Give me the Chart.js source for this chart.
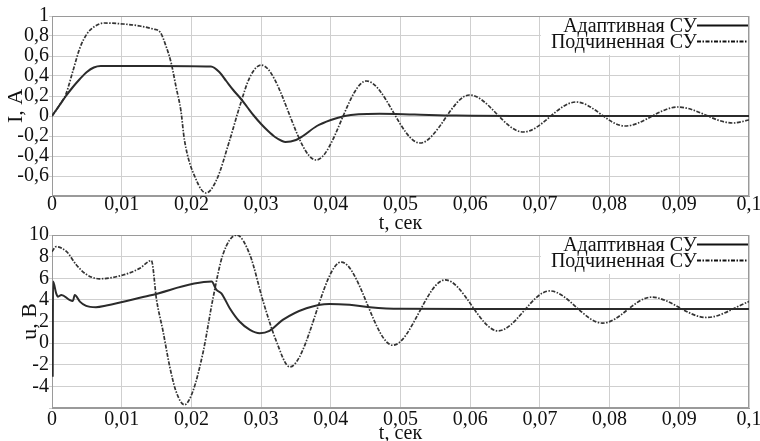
<!DOCTYPE html>
<html><head><meta charset="utf-8">
<script src="https://cdn.jsdelivr.net/npm/chart.js@4.4.1/dist/chart.umd.min.js"></script>
<style>
html,body{margin:0;padding:0;background:#fff;width:760px;height:441px;overflow:hidden;position:relative}
canvas{position:absolute;left:0}
#c1{top:0}
#c2{top:220px}
</style></head><body>
<canvas id="c1" width="760" height="236"></canvas>
<canvas id="c2" width="760" height="221"></canvas>
<script>
const seriesNames = ['Адаптивная СУ', 'Подчиненная СУ'];
const xTitle = 't, сек';
const iTitle = 'I, A';
const uTitle = 'u, B';
const xTicks = [0,0.01,0.02,0.03,0.04,0.05,0.06,0.07,0.08,0.09,0.1];
const xTickLabels = ['0','0,01','0,02','0,03','0,04','0,05','0,06','0,07','0,08','0,09','0,1'];
const iTicks = [-0.8,-0.6,-0.4,-0.2,0,0.2,0.4,0.6,0.8,1];
const iTickLabels = ['','-0,6','-0,4','-0,2','0','0,2','0,4','0,6','0,8','1'];
const uTicks = [-6,-4,-2,0,2,4,6,8,10];
const uTickLabels = ['','-4','-2','0','2','4','6','8','10'];

// Current, adaptive control
const tIAdaptive = [0,0.001,0.002,0.003,0.004,0.005,0.006,0.007,0.015,0.0228,0.024,0.025,0.026,0.027,0.028,0.029,0.030,0.031,0.032,0.033,0.0335,0.035,0.036,0.038,0.040,0.042,0.044,0.047,0.052,0.058,0.07,0.1];
const iAdaptive  = [0,0.1,0.2,0.29,0.37,0.44,0.485,0.5,0.5,0.495,0.44,0.35,0.26,0.18,0.09,0.0,-0.08,-0.15,-0.21,-0.25,-0.26,-0.24,-0.2,-0.1,-0.04,0.0,0.017,0.022,0.014,0.004,0,0];
// Current, subordinate control
const tISub = [0,0.001,0.002,0.003,0.004,0.005,0.006,0.0075,0.0102,0.0126,0.0145,0.0155,0.0164,0.0171,0.0178,0.0185,0.019,0.0207,0.0221,0.0236,0.0255,0.0269,0.0284,0.030,0.0379,0.0451,0.0528,0.0599,0.0676,0.0752,0.0822,0.0898,0.0977,0.1];
const iSub  = [0,0.1,0.22,0.45,0.68,0.82,0.89,0.93,0.92,0.90,0.87,0.84,0.69,0.53,0.29,0.05,-0.24,-0.64,-0.77,-0.64,-0.24,0.09,0.39,0.51,-0.44,0.35,-0.27,0.21,-0.16,0.14,-0.10,0.09,-0.07,-0.04];
// Voltage, adaptive control
const tUAdaptive = [0.0001,0.00015,0.0006,0.00086,0.00135,0.0025,0.003,0.00326,0.004,0.0049,0.0063,0.0078,0.014,0.0229,0.0236,0.0243,0.0255,0.0269,0.0284,0.0298,0.0312,0.0331,0.0365,0.0398,0.0427,0.0456,0.05,0.06,0.1];
const uAdaptive  = [-3.1,5.7,4.6,4.3,4.46,4.0,3.9,4.46,3.84,3.44,3.32,3.47,4.4,5.69,4.92,4.61,3.23,2.0,1.23,0.92,1.14,2.15,3.23,3.63,3.54,3.32,3.17,3.15,3.15];
// Voltage, subordinate control
const tUSub = [0,0.0006,0.0021,0.0035,0.0049,0.0068,0.0102,0.0126,0.01426,0.015,0.0159,0.0169,0.0178,0.019,0.0202,0.0217,0.0231,0.0245,0.0265,0.0284,0.0303,0.0322,0.0341,0.0415,0.0489,0.0564,0.064,0.0714,0.079,0.086,0.0939,0.1];
const uSub  = [8.46,8.92,8.46,7.23,6.37,5.95,6.3,6.92,7.63,4.0,1.2,-2.2,-4.47,-5.7,-4.47,-0.77,4.15,8.15,10,8.15,3.84,0.15,-2.2,7.5,-0.2,5.85,1.13,4.83,1.85,4.25,2.37,3.84];

const FONT = "'Liberation Serif','Times New Roman',serif";
const TXT = '#111';
const GRID = '#cfcfcf';

function pts(t, v){ return t.map((x,k)=>({x:x, y:v[k]})); }

const legendFrame = {
  id: 'legendFrame',
  beforeDatasetsDraw(chart){
    const {ctx, chartArea:a} = chart;
    ctx.save();
    ctx.strokeStyle = '#9a9a9a';
    ctx.lineWidth = 1;
    ctx.strokeRect(a.left + 0.5, a.top + 0.5, a.right - a.left - 1, a.bottom - a.top - 1);
    ctx.restore();
  },
  afterDatasetsDraw(chart){
    const {ctx, chartArea:a} = chart;
    const xs = chart.scales.x;
    const x0 = xs.getPixelForValue(0.07) + 1;
    ctx.save();
    ctx.fillStyle = '#fff';
    ctx.fillRect(x0, a.top + 1, a.right - 1 - x0, 38);
    ctx.font = '20px ' + FONT;
    ctx.textAlign = 'right';
    ctx.textBaseline = 'middle';
    chart.data.datasets.forEach((ds, i) => {
      const y = a.top + 9.5 + i * 16;
      ctx.fillStyle = TXT;
      ctx.fillText(ds.label, a.right - 52, y + 1);
      ctx.strokeStyle = '#111';
      ctx.lineWidth = 2;
      ctx.setLineDash(ds.borderDash || []);
      ctx.beginPath();
      ctx.moveTo(a.right - 52, y);
      ctx.lineTo(a.right - 1, y);
      ctx.stroke();
    });
    ctx.restore();
  }
};

function makeChart(id, sets, yTicks, yLabels, yTitle, o){
  const ds = [
    {label: seriesNames[0], data: pts(sets[0], sets[1]), borderColor:'#2b2b2b', borderWidth:2},
    {label: seriesNames[1], data: pts(sets[2], sets[3]), borderColor:'#333333', borderWidth:1.7, borderDash:[4,1.5,1.5,1.5]}
  ];
  ds.forEach(d => { d.pointRadius = 0; d.cubicInterpolationMode = 'monotone'; d.fill = false; });
  return new Chart(document.getElementById(id), {
    type: 'line',
    data: {datasets: ds},
    plugins: [legendFrame],
    options: {
      responsive: false, animation: false, devicePixelRatio: 1,
      layout: {padding: {left: 0, right: 11, top: o.top, bottom: 0}},
      plugins: {legend: {display: false}, tooltip: {enabled: false}},
      scales: {
        x: {
          type: 'linear', min: 0, max: 0.1,
          afterBuildTicks: s => { s.ticks = xTicks.map(v => ({value: v})); },
          afterFit: s => { s.height = o.xh; s.paddingLeft = 0; s.paddingRight = 0; },
          ticks: {autoSkip: false, maxRotation: 0, minRotation: 0, padding: o.xpad, color: TXT,
                  font: {family: FONT, size: 20, lineHeight: 1}, callback: (v, i) => xTickLabels[i]},
          grid: {color: GRID, drawTicks: false},
          border: {display: true, color: '#9a9a9a'},
          title: {display: true, text: xTitle, color: TXT, padding: 0,
                  font: {family: FONT, size: 20, lineHeight: o.tlh}}
        },
        y: {
          type: 'linear', min: yTicks[0], max: yTicks[yTicks.length-1],
          afterBuildTicks: s => { s.ticks = yTicks.map(v => ({value: v})); },
          afterFit: s => { s.width = 52; s.paddingTop = 0; s.paddingBottom = 0; },
          ticks: {autoSkip: false, padding: 0, color: TXT,
                  font: {family: FONT, size: 20, lineHeight: 1}, callback: (v, i) => yLabels[i]},
          grid: {color: GRID, drawTicks: true, tickLength: 3},
          border: {display: true, color: '#9a9a9a'},
          title: {display: true, text: yTitle, color: TXT, padding: {top: o.ytp, bottom: 0},
                  font: {family: FONT, size: 22, lineHeight: 1.2}}
        }
      }
    }
  });
}

makeChart('c1', [tIAdaptive, iAdaptive, tISub, iSub], iTicks, iTickLabels, iTitle,
  {top: 16, xh: 40, xpad: -1, tlh: 1.2, ytp: 3});
makeChart('c2', [tUAdaptive, uAdaptive, tUSub, uSub], uTicks, uTickLabels, uTitle,
  {top: 15, xh: 33, xpad: 1.5, tlh: 0.77, ytp: 17});
</script>
</body></html>
